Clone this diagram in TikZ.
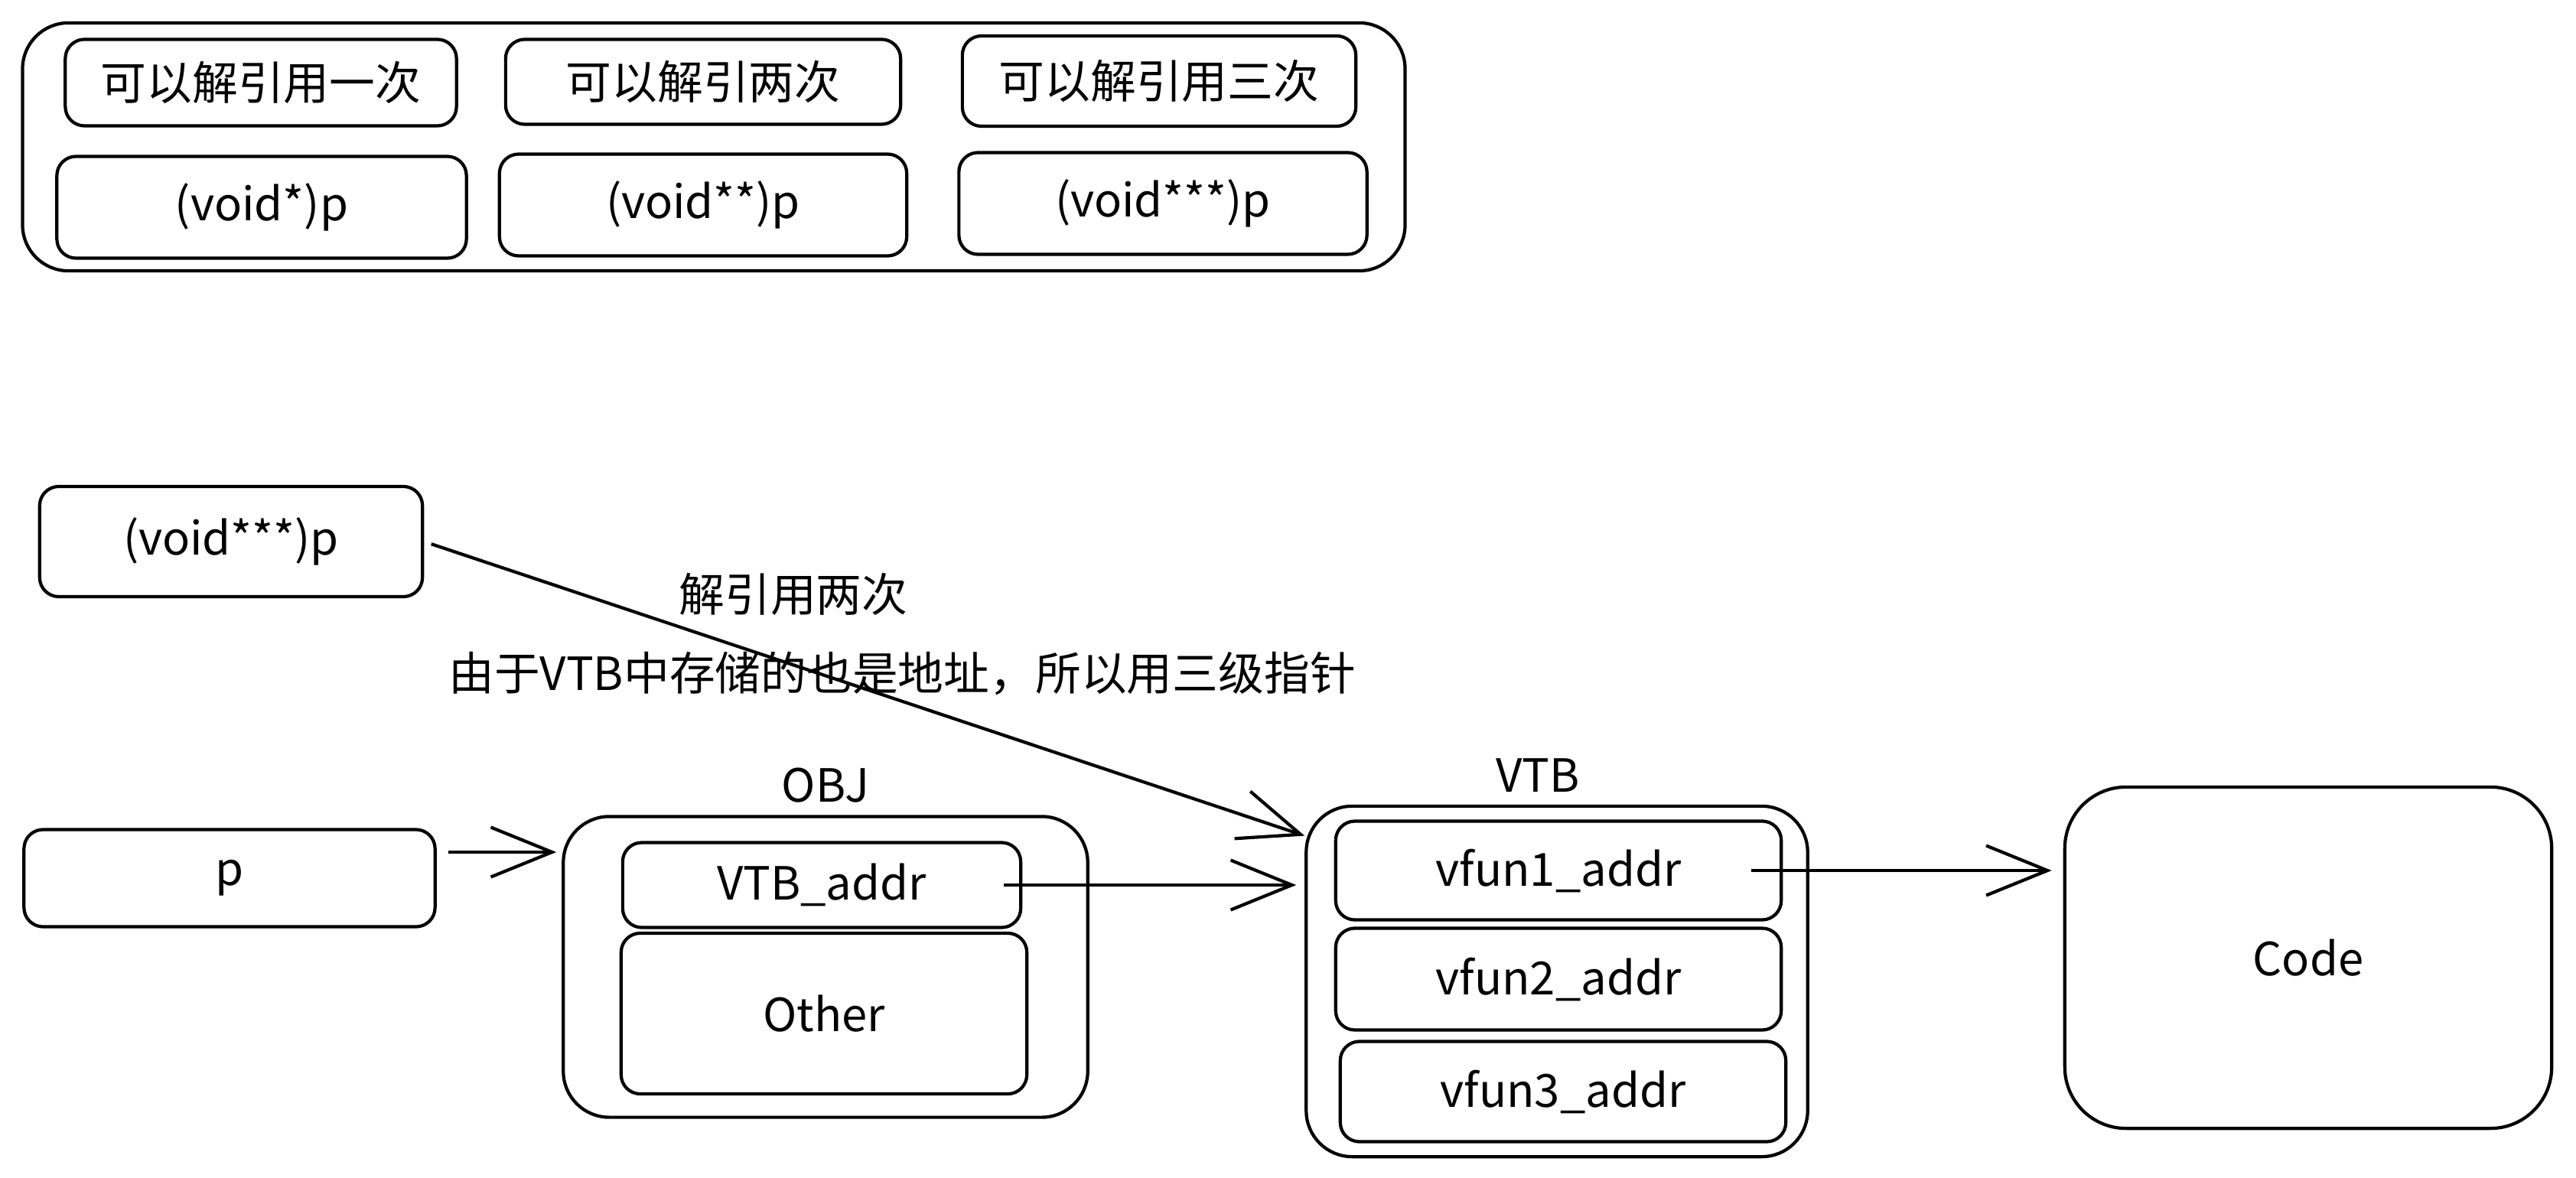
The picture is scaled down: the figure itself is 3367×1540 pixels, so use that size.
\documentclass[tikz,border=0pt]{standalone}
\usepackage{fontspec}
\setmainfont{Noto Sans CJK SC}
\usetikzlibrary{arrows.meta}
\usetikzlibrary{positioning}
\tikzset{
	node distance=1.4mm,
	every path/.style = {line width=1.2pt},
	txt/.style = {inner sep=0pt, font=\fontsize{17}{20}\selectfont},
	box/.style = {txt, draw, rounded corners=2.5mm},
	bigbox/.style = {box, rounded corners=6mm},
	arr/.style = {-{Straight Barb[length=8mm,width=6.5mm]}}
}

\begin{document}
\begin{tikzpicture}[x=0.01cm, y=-0.01cm]
	\useasboundingbox (0,0) rectangle (3367,1540);
	\node (legend) [bigbox, minimum width=18.06cm, minimum height=3.24cm] at (933,192) {};
	\node (once) [box, minimum width=5.11cm, minimum height=1.13cm] at (341,108) {可以解引用一次};
	\node (twice) [box, minimum width=5.16cm, minimum height=1.11cm] at (919,107) {可以解引两次};
	\node (thrice) [box, minimum width=5.14cm, minimum height=1.18cm] at (1515,106) {可以解引用三次};
	\node (cast1) [box, minimum width=5.35cm, minimum height=1.33cm] at (342,271) {(void*)p};
	\node (cast2) [box, minimum width=5.32cm, minimum height=1.33cm] at (919,268) {(void**)p};
	\node (cast3) [box, minimum width=5.33cm, minimum height=1.33cm] at (1520,266) {(void***)p};
	\node (vp) [box, minimum width=5.00cm, minimum height=1.44cm] at (302,708) {(void***)p};
	\node (p) [box, minimum width=5.37cm, minimum height=1.27cm] at (300,1148) {p};
	\node (obj) [bigbox, minimum width=6.85cm, minimum height=3.93cm] at (1079,1264) {};
	\node (objname) [txt, above=of obj] {OBJ};
	\node (vaddr) [box, minimum width=5.20cm, minimum height=1.11cm] at (1074,1157) {VTB\_addr};
	\node (other) [box, minimum width=5.30cm, minimum height=2.10cm] at (1077,1325) {Other};
	\node (vtb) [bigbox, minimum width=6.55cm, minimum height=4.58cm] at (2035,1283) {};
	\node (vtbname) [txt, above=of vtb, xshift=-2.5mm] {VTB};
	\node (vf1) [box, minimum width=5.82cm, minimum height=1.29cm] at (2037,1138) {vfun1\_addr};
	\node (vf2) [box, minimum width=5.82cm, minimum height=1.33cm] at (2037,1280) {vfun2\_addr};
	\node (vf3) [box, minimum width=5.82cm, minimum height=1.31cm] at (2043,1427) {vfun3\_addr};
	\node (code) [bigbox, rounded corners=8mm, minimum width=6.36cm, minimum height=4.46cm] at (3017,1252) {Code};
	\node (deref) [txt] at (1037,777) {解引用两次};
	\node (why) [txt] at (1179,880) {由于VTB中存储的也是地址，所以用三级指针};
	\coordinate (pout) at ([xshift=1.5mm,yshift=3.4mm]p.east);
	\coordinate (aout) at ([xshift=-2.4mm]vaddr.east);
	\coordinate (fout) at ([xshift=-4.1mm]vf1.east);
	\draw [arr, shorten >=0.7mm] (pout) -- (pout -| obj.west);
	\draw [arr, shorten >=1.1mm] (aout) -- (aout -| vtb.west);
	\draw [arr, shorten >=1.5mm] (fout) -- (fout -| code.west);
	\draw [arr, shorten <=1mm] (vp.east) -- (vtb.150);
\end{tikzpicture}
\end{document}
